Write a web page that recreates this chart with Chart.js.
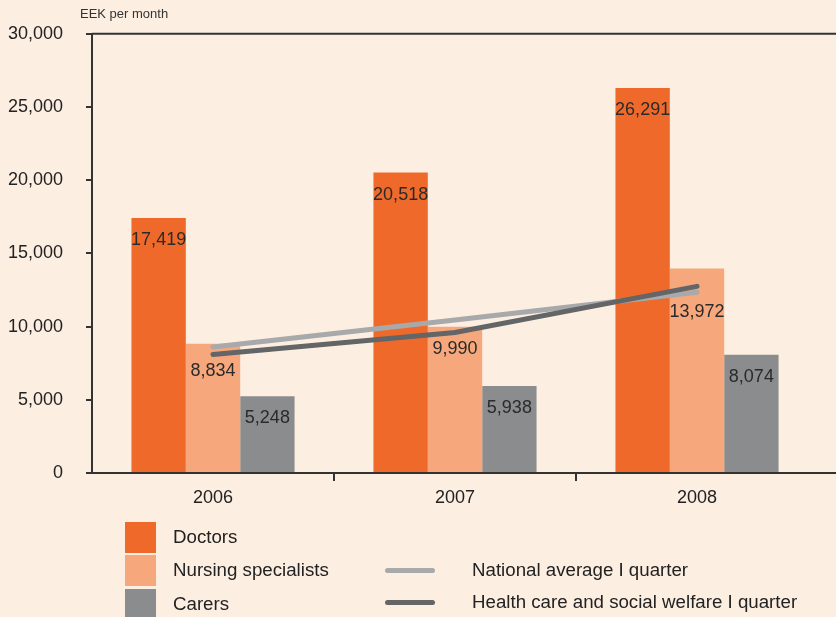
<!DOCTYPE html>
<html>
<head>
<meta charset="utf-8">
<script src="https://cdn.jsdelivr.net/npm/chart.js@4"></script>
<style>
  html, body { margin: 0; padding: 0; background: #fdeee2; }
  #wrap { position: relative; width: 836px; height: 617px; overflow: hidden; font-family: Arial, "Liberation Sans", sans-serif; color: #222; }
  #chart { position: absolute; left: 0; top: 0; }
  .unit { position: absolute; left: 80px; top: 6px; font-size: 13px; color: #333; }
  .lg { position: absolute; font-size: 18.7px; line-height: 20px; }
  .sw { position: absolute; left: 125px; width: 31px; height: 31px; }
  .ln { position: absolute; left: 385px; width: 50px; height: 5px; border-radius: 3px; }
</style>
</head>
<body>
<div id="wrap">
  <canvas id="chart" width="836" height="617"></canvas>
  <div class="unit">EEK per month</div>
  <div id="legend"></div>
</div>
<script>
// 資料
const years = ['2006', '2007', '2008'];
const doctors = [17419, 20518, 26291];
const nursing = [8834, 9990, 13972];
const carers = [5248, 5938, 8074];
const nationalAvg = [8600, 10450, 12350];
const healthCare = [8100, 9600, 12750];
const yTicks = [0, 5000, 10000, 15000, 20000, 25000, 30000];

// 顏色
const colors = {
    doctors: '#ef6a2a',
    nursing: '#f6a87c',
    carers: '#8b8c8e',
    national: '#a8a9ab',
    health: '#646567',
    axis: '#333333'
};

// 數值標籤往下偏移 (避開折線)
const labelOffset = { '1-0': 27, '1-2': 44 };

const fmt = v => v.toLocaleString('en-US');

// 畫軸線 + 數值標籤
const framePlugin = {
    id: 'frame',
    afterDatasetsDraw(chart) {
        const { ctx } = chart;
        ctx.save();
        ctx.font = '18px Arial, "Liberation Sans", sans-serif';
        ctx.fillStyle = '#2a2a2a';
        ctx.textAlign = 'center';
        ctx.textBaseline = 'middle';
        [0, 1, 2].forEach(di => {
            const meta = chart.getDatasetMeta(di);
            meta.data.forEach((bar, i) => {
                const value = chart.data.datasets[di].data[i];
                const off = labelOffset[di + '-' + i] || 22;
                ctx.fillText(fmt(value), bar.x, bar.y + off);
            });
        });
        ctx.restore();
    },
    afterDraw(chart) {
        const { ctx, chartArea: a, width } = chart;
        ctx.save();
        ctx.strokeStyle = colors.axis;
        ctx.lineWidth = 2;
        ctx.beginPath();
        ctx.moveTo(a.left, a.top);
        ctx.lineTo(width, a.top);
        ctx.moveTo(a.left - 1, a.bottom);
        ctx.lineTo(width, a.bottom);
        ctx.stroke();
        ctx.restore();
    }
};

new Chart(document.getElementById('chart'), {
    type: 'bar',
    data: {
        labels: years,
        datasets: [
            { label: 'Doctors', data: doctors, backgroundColor: colors.doctors, order: 2 },
            { label: 'Nursing specialists', data: nursing, backgroundColor: colors.nursing, order: 2 },
            { label: 'Carers', data: carers, backgroundColor: colors.carers, order: 2 },
            {
                type: 'line', label: 'National average I quarter', data: nationalAvg,
                borderColor: colors.national, borderWidth: 5, borderCapStyle: 'round',
                pointRadius: 0, tension: 0, order: 1
            },
            {
                type: 'line', label: 'Health care and social welfare I quarter', data: healthCare,
                borderColor: colors.health, borderWidth: 5, borderCapStyle: 'round',
                pointRadius: 0, tension: 0, order: 0
            }
        ]
    },
    options: {
        responsive: false,
        animation: false,
        layout: { padding: { top: 33, right: 18, left: 0, bottom: 0 } },
        datasets: {
            bar: { barPercentage: 1, categoryPercentage: 0.674 }
        },
        plugins: {
            legend: { display: false },
            tooltip: { enabled: false }
        },
        scales: {
            x: {
                afterFit: s => { s.height = 144; },
                border: { display: false },
                grid: {
                    drawOnChartArea: false,
                    tickLength: 8,
                    lineWidth: 2,
                    color: c => (c.type === 'tick' && c.index > 0) ? colors.axis : 'rgba(0,0,0,0)'
                },
                ticks: {
                    color: '#222',
                    padding: 6,
                    font: { family: 'Arial, "Liberation Sans", sans-serif', size: 18 }
                }
            },
            y: {
                min: 0,
                max: 30000,
                afterFit: s => { s.width = 92; },
                afterBuildTicks: s => { s.ticks = yTicks.map(v => ({ value: v })); },
                border: { display: true, color: colors.axis, width: 2 },
                grid: { drawOnChartArea: false, tickLength: 6, lineWidth: 2, color: colors.axis },
                ticks: {
                    color: '#222',
                    padding: 23,
                    font: { family: 'Arial, "Liberation Sans", sans-serif', size: 18 },
                    callback: v => fmt(v)
                }
            }
        }
    },
    plugins: [framePlugin]
});

// 圖例 (HTML)
const legendItems = [
    { text: 'Doctors', color: colors.doctors, kind: 'box', top: 522 },
    { text: 'Nursing specialists', color: colors.nursing, kind: 'box', top: 555 },
    { text: 'Carers', color: colors.carers, kind: 'box', top: 589 },
    { text: 'National average I quarter', color: colors.national, kind: 'line', top: 568 },
    { text: 'Health care and social welfare I quarter', color: colors.health, kind: 'line', top: 600 }
];
const legendEl = document.getElementById('legend');
legendItems.forEach(item => {
    const mark = document.createElement('div');
    const label = document.createElement('div');
    label.className = 'lg';
    label.textContent = item.text;
    if (item.kind === 'box') {
        mark.className = 'sw';
        mark.style.top = item.top + 'px';
        label.style.left = '173px';
        label.style.top = (item.top + 5) + 'px';
    } else {
        mark.className = 'ln';
        mark.style.top = item.top + 'px';
        label.style.left = '472px';
        label.style.top = (item.top - 8) + 'px';
    }
    mark.style.background = item.color;
    legendEl.appendChild(mark);
    legendEl.appendChild(label);
});
</script>
</body>
</html>
